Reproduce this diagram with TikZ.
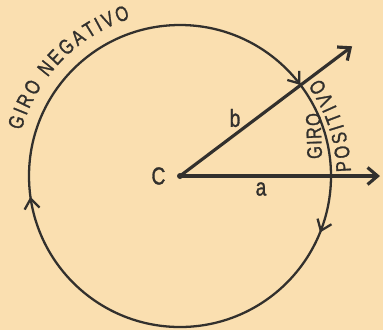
\documentclass[tikz,border=0pt]{standalone}
\usepackage{fontspec}
\newfontfamily\girofont[FakeStretch=0.78,FakeBold=1.2]{Liberation Sans}
\usetikzlibrary{arrows.meta,positioning,decorations.text,decorations.markings}
\definecolor{paper}{RGB}{250,223,176}
\definecolor{ink}{RGB}{50,48,45}

\begin{document}
\begin{tikzpicture}[
  font=\girofont,
  vec/.style={draw=ink,line width=1.8pt,-{Straight Barb[length=2mm,width=3.4mm]}},
  spin/.style={draw=ink,line width=1.3pt,postaction={decorate,decoration={markings,
    mark=at position 0.103 with {\arrowreversed{Straight Barb[length=2mm,width=3mm]}},
    mark=at position 0.522 with {\arrowreversed{Straight Barb[length=2mm,width=3mm]}},
    mark=at position 0.939 with {\arrowreversed{Straight Barb[length=2mm,width=3mm]}}}}},
  lbl/.style={text=ink,font=\girofont\fontsize{14}{16}\selectfont,inner sep=1pt},
  arcword/.style={decorate,decoration={text along path,text align=fit to path,
    text={|\girofont\fontsize{12}{14}\selectfont\color{ink}|#1}}}
]
\path[use as bounding box,fill=paper] (-3.6,-3.08) rectangle (4.06,3.52);
\coordinate (C) at (0,0);
\coordinate (A) at (4.0,0);
\coordinate (B) at (37:4.31);
% circle with the turning direction
\draw[spin] (C) circle[radius=3.02];
\draw[vec] (C) -- (A);
\draw[vec] (C) -- (B);
\fill[ink] (C) circle[radius=0.06];
\node[lbl, left=2.5mm of C] (clbl) {C};
\node[lbl] (albl) at (1.62,-0.26) {a};
\node[lbl] (blbl) at (1.1,1.16) {b};
% texts along the circle
\path[arcword={GIRO NEGATIVO}] (164:3.3) arc[start angle=164,end angle=107.5,radius=3.3];
\path[arcword={POSITIVO}] (1.5:3.42) arc[start angle=1.5,end angle=35,radius=3.42];
\node[lbl, font=\girofont\fontsize{12}{14}\selectfont, rotate=92] (giro) at (2.68,0.80) {\addfontfeature{LetterSpace=6}GIRO};
\end{tikzpicture}
\end{document}
